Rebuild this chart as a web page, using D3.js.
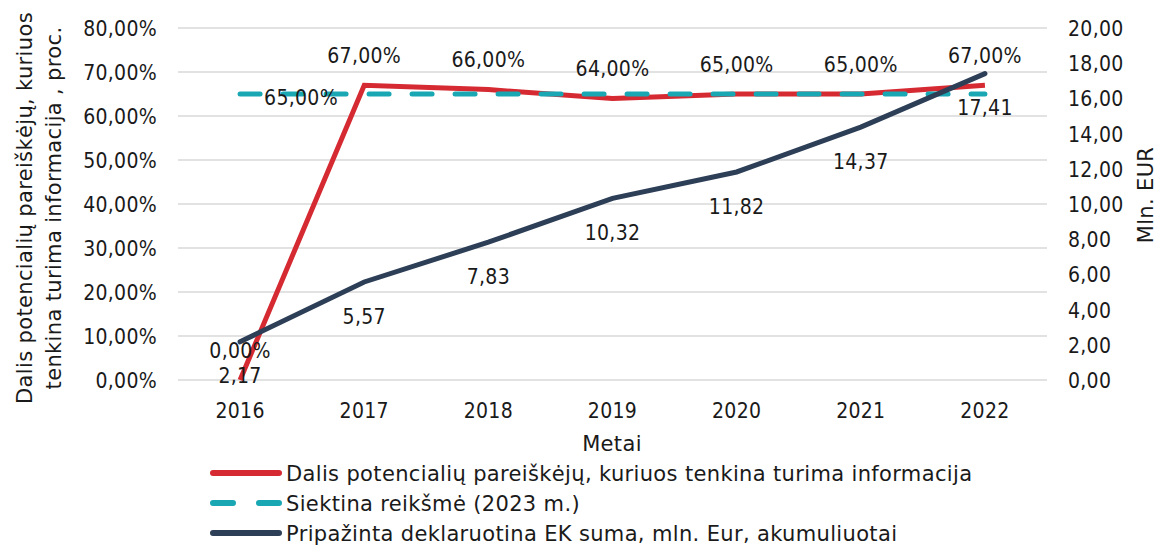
<!DOCTYPE html>
<html><head><meta charset="utf-8">
<script src="https://cdn.jsdelivr.net/npm/d3@7"></script>
<style>
body{margin:0;background:#fff;}
text{fill:#1a1a1a;}
</style></head>
<body>
<svg id="c" width="1161" height="549"></svg>
<script>
const years = ["2016","2017","2018","2019","2020","2021","2022"];
const shareValues = [0, 67, 66, 64, 65, 65, 67];
const targetValues = [65, 65, 65, 65, 65, 65, 65];
const amountValues = [2.17, 5.57, 7.83, 10.32, 11.82, 14.37, 17.41];
const leftTicks = [0,10,20,30,40,50,60,70,80];
const rightTicks = [0,2,4,6,8,10,12,14,16,18,20];
const seriesNames = ["Dalis potencialių pareiškėjų, kuriuos tenkina turima informacija","Siektina reikšmė (2023 m.)","Pripažinta deklaruotina EK suma, mln. Eur, akumuliuotai"];
const yTitleLines = ["Dalis potencialių pareiškėjų, kuriuos","tenkina turima informacija , proc."];
const rightTitle = "Mln. EUR";
const xTitle = "Metai";

const FS = 21;
const svg = d3.select("#c");
const pL = 178, pR = 1047, pT = 28, pB = 380;
const x = d3.scaleBand().domain(years).range([pL, pR]);
const xc = d => x(d) + x.bandwidth()/2;
const yL = d3.scaleLinear().domain([0,80]).range([pB, pT]);
const yR = d3.scaleLinear().domain([0,20]).range([pB, pT]);
const fmt2 = v => d3.format(".2f")(v).replace(".", ",");

const num = (g) => g.style("font-family", '"DejaVu Sans Condensed","DejaVu Sans",sans-serif')
  .style("font-size", FS+"px").style("letter-spacing", "0.3px");
const wrd = (g) => g.style("font-family", '"DejaVu Sans",sans-serif')
  .style("font-size", FS+"px").style("letter-spacing", "0.35px");

// gridlines
svg.append("g").selectAll("line").data(leftTicks).join("line")
  .attr("x1", pL).attr("x2", pR).attr("y1", d=>yL(d)).attr("y2", d=>yL(d))
  .attr("stroke", "#d9d9d9").attr("stroke-width", 1.5);

// left axis
const gl = svg.append("g").attr("transform", `translate(${157},0)`)
  .call(d3.axisLeft(yL).tickValues(leftTicks).tickSize(0).tickPadding(0).tickFormat(d=>fmt2(d)+"%"));
gl.select(".domain").remove();
gl.selectAll("text").call(num).attr("dy","0.36em").attr("fill","#1a1a1a");

// right axis
const gr = svg.append("g").attr("transform", `translate(${1068},0)`)
  .call(d3.axisRight(yR).tickValues(rightTicks).tickSize(0).tickPadding(0).tickFormat(fmt2));
gr.select(".domain").remove();
gr.selectAll("text").call(num).attr("dy","0.36em").attr("fill","#1a1a1a");

// x axis
const gx = svg.append("g").attr("transform", `translate(0,${410})`)
  .call(d3.axisBottom(x).tickSize(0).tickPadding(0));
gx.select(".domain").remove();
gx.selectAll("text").call(num).attr("y",0).attr("dy","0.36em").attr("fill","#1a1a1a");

// titles
svg.append("text").attr("x", 612).attr("y", 443).attr("dy","0.36em").attr("text-anchor","middle").text(xTitle).call(wrd);
yTitleLines.forEach((t,i)=>{
  svg.append("text").attr("transform", `translate(${24+i*29},208) rotate(-90)`).attr("dy","0.36em")
    .attr("text-anchor","middle").text(t).call(wrd);
});
svg.append("text").attr("transform", `translate(1145,195) rotate(-90)`).attr("dy","0.36em")
  .attr("text-anchor","middle").text(rightTitle).call(wrd);

const red = "#d52a32", teal = "#19a7b3", navy = "#2d3e57";
const lineL = d3.line().x((d,i)=>xc(years[i])).y(d=>yL(d));
const lineR = d3.line().x((d,i)=>xc(years[i])).y(d=>yR(d));

svg.append("path").attr("d", lineL(shareValues)).attr("fill","none").attr("stroke",red).attr("stroke-width",5);
svg.append("path").attr("d", lineL(targetValues)).attr("fill","none").attr("stroke",teal).attr("stroke-width",5)
  .attr("stroke-dasharray","20 23").attr("stroke-linecap","round");
svg.append("path").attr("d", lineR(amountValues)).attr("fill","none").attr("stroke",navy).attr("stroke-width",5)
  .attr("stroke-linecap","round");

// labels
svg.append("g").selectAll("text").data(shareValues).join("text")
  .attr("x",(d,i)=>xc(years[i])).attr("y",(d,i)=>yL(d)-30).attr("dy","0.36em").attr("text-anchor","middle")
  .text(d=>fmt2(d)+"%").call(num);
svg.append("text").attr("x", xc(years[0])+24).attr("y", yL(targetValues[0])+3).attr("dy","0.36em")
  .text(fmt2(targetValues[0])+"%").call(num);
svg.append("g").selectAll("text").data(amountValues).join("text")
  .attr("x",(d,i)=>xc(years[i])).attr("y",(d,i)=>yR(d)+34).attr("dy","0.36em").attr("text-anchor","middle")
  .text(d=>fmt2(d)).call(num);

// legend
const lg = svg.append("g");
const colors = [red, teal, navy];
seriesNames.forEach((n,i)=>{
  const yy = 473 + i*30;
  lg.append("line").attr("x1",213).attr("x2",279).attr("y1",yy).attr("y2",yy)
    .attr("stroke",colors[i]).attr("stroke-width",6)
    .attr("stroke-dasharray", i===1 ? "20 26" : null).attr("stroke-linecap","round");
  lg.append("text").attr("x",286).attr("y",yy).attr("dy","0.36em").text(n).call(wrd);
});
</script>
</body></html>
